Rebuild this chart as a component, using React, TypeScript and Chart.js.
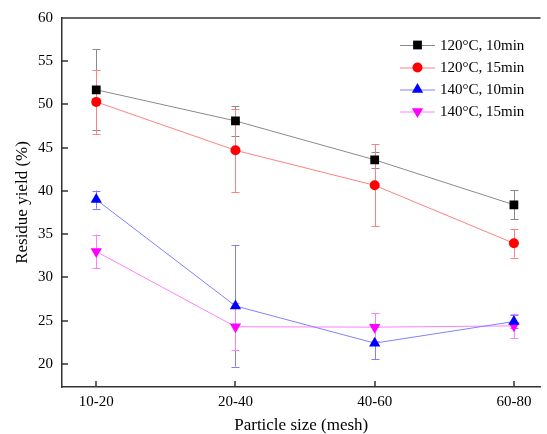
import React, { useEffect, useRef } from 'react';
import { Chart, registerables } from 'chart.js';

Chart.register(...registerables);

const categories = ['10-20', '20-40', '40-60', '60-80'];
const seriesLabels = ['120°C, 10min', '120°C, 15min', '140°C, 10min', '140°C, 15min'];
const yield120_10 = [51.7, 48.1, 43.6, 38.4];
const err120_10 = [4.7, 1.7, 0.95, 1.7];
const yield120_15 = [50.3, 44.7, 40.65, 33.95];
const err120_15 = [3.7, 4.8, 4.75, 1.65];
const yield140_10 = [39.0, 26.7, 22.4, 24.9];
const err140_10 = [1.05, 7.0, 1.85, 0.8];
const yield140_15 = [33.0, 24.3, 24.25, 24.4];
const err140_15 = [1.95, 2.7, 1.6, 1.4];
const yTicks = [20, 25, 30, 35, 40, 45, 50, 55, 60];

const seriesValues = [yield120_10, yield120_15, yield140_10, yield140_15];
const seriesErrors = [err120_10, err120_15, err140_10, err140_15];
const markerColors = ['#000000', '#ff0000', '#0000ff', '#ff00ff'];
const lineColors = ['#8a8a8a', '#ff8080', '#8080ff', '#ff80ff'];
const markerStyles = ['rect', 'circle', 'triangle', 'triangle'];
const markerRadius = [6.2, 5, 6.5, 6.5];
const markerRotation = [0, 0, 0, 180];

const FONT = '"Liberation Serif", "Times New Roman", serif';

function drawMarker(ctx: CanvasRenderingContext2D, style: string, x: number, y: number, r: number, rot: number, color: string) {
  ctx.save();
  ctx.fillStyle = color;
  ctx.strokeStyle = color;
  ctx.beginPath();
  if (style === 'rect') {
    const s = Math.SQRT1_2 * r;
    ctx.rect(x - s, y - s, 2 * s, 2 * s);
  } else if (style === 'circle') {
    ctx.arc(x, y, r, 0, Math.PI * 2);
  } else {
    let a = (rot * Math.PI) / 180;
    ctx.moveTo(x + Math.sin(a) * r, y - Math.cos(a) * r);
    a += (2 * Math.PI) / 3;
    ctx.lineTo(x + Math.sin(a) * r, y - Math.cos(a) * r);
    a += (2 * Math.PI) / 3;
    ctx.lineTo(x + Math.sin(a) * r, y - Math.cos(a) * r);
    ctx.closePath();
  }
  ctx.fill();
  ctx.restore();
}

const errorBarPlugin = {
  id: 'errorBars',
  beforeDatasetsDraw(chart: any) {
    const ctx = chart.ctx;
    const xs = chart.scales.x;
    const ys = chart.scales.y;
    ctx.save();
    ctx.lineWidth = 1;
    seriesValues.forEach((vals, si) => {
      ctx.strokeStyle = lineColors[si];
      vals.forEach((v, i) => {
        const e = seriesErrors[si][i];
        const px = Math.round(xs.getPixelForValue(i)) + 0.5;
        const top = ys.getPixelForValue(v + e);
        const bot = ys.getPixelForValue(v - e);
        ctx.beginPath();
        ctx.moveTo(px, top);
        ctx.lineTo(px, bot);
        ctx.moveTo(px - 4, Math.round(top) + 0.5);
        ctx.lineTo(px + 4, Math.round(top) + 0.5);
        ctx.moveTo(px - 4, Math.round(bot) + 0.5);
        ctx.lineTo(px + 4, Math.round(bot) + 0.5);
        ctx.stroke();
      });
    });
    ctx.restore();
  },
};

const frameTicksLegendPlugin = {
  id: 'frameTicksLegend',
  afterDraw(chart: any) {
    const ctx = chart.ctx;
    const { left, right, top, bottom } = chart.chartArea;
    const xs = chart.scales.x;
    const ys = chart.scales.y;
    ctx.save();
    ctx.strokeStyle = '#333333';
    ctx.lineWidth = 1.5;
    ctx.beginPath();
    ctx.moveTo(left, top);
    ctx.lineTo(right, top);
    yTicks.forEach((v) => {
      const py = Math.round(ys.getPixelForValue(v));
      ctx.moveTo(left, py);
      ctx.lineTo(left + 6, py);
    });
    categories.forEach((_, i) => {
      const px = Math.round(xs.getPixelForValue(i));
      ctx.moveTo(px, bottom);
      ctx.lineTo(px, bottom - 6);
    });
    ctx.stroke();

    // legend
    const lx0 = 400;
    const lx1 = 435;
    const rowY = [45, 67.5, 89.5, 111.5];
    ctx.font = `15px ${FONT}`;
    ctx.textBaseline = 'middle';
    ctx.textAlign = 'left';
    seriesLabels.forEach((lab, si) => {
      const y = rowY[si];
      ctx.strokeStyle = lineColors[si];
      ctx.lineWidth = 1;
      ctx.beginPath();
      ctx.moveTo(lx0, y + 0.5);
      ctx.lineTo(lx1, y + 0.5);
      ctx.stroke();
      drawMarker(ctx, markerStyles[si], (lx0 + lx1) / 2, y, markerRadius[si], markerRotation[si], markerColors[si]);
      ctx.fillStyle = '#000000';
      ctx.fillText(lab, 440, y + 1);
    });
    ctx.restore();
  },
};

export default function App() {
  const canvasRef = useRef<HTMLCanvasElement | null>(null);

  useEffect(() => {
    if (!canvasRef.current) return;
    const datasets = seriesValues.map((vals, si) => ({
      label: seriesLabels[si],
      data: vals.map((v, i) => ({ x: i, y: v })),
      showLine: true,
      borderColor: lineColors[si],
      borderWidth: 1,
      backgroundColor: markerColors[si],
      pointBackgroundColor: markerColors[si],
      pointBorderColor: markerColors[si],
      pointBorderWidth: 0,
      pointStyle: markerStyles[si],
      pointRadius: markerRadius[si],
      pointRotation: markerRotation[si],
      tension: 0,
    }));

    const chart = new Chart(canvasRef.current, {
      type: 'scatter',
      data: { datasets },
      plugins: [errorBarPlugin, frameTicksLegendPlugin],
      options: {
        responsive: false,
        animation: false,
        devicePixelRatio: 1,
        layout: { padding: { top: 18, left: 0, right: 0, bottom: 0 } },
        plugins: {
          legend: { display: false },
          tooltip: { enabled: false },
        },
        scales: {
          x: {
            type: 'linear',
            min: -0.246,
            max: 3.191,
            afterBuildTicks: (scale: any) => {
              scale.ticks = categories.map((_, i) => ({ value: i }));
            },
            afterFit: (scale: any) => {
              scale.height = 47;
            },
            ticks: {
              callback: (v: any) => categories[v] ?? '',
              color: '#000000',
              font: { family: FONT, size: 15 },
              padding: 6,
              maxRotation: 0,
              autoSkip: false,
            },
            grid: { display: false, drawTicks: false },
            border: { display: true, color: '#333333', width: 1.5 },
            title: {
              display: true,
              text: 'Particle size (mesh)',
              color: '#000000',
              font: { family: FONT, size: 17, lineHeight: 1 },
              padding: { top: 0, bottom: 0 },
            },
          },
          y: {
            type: 'linear',
            min: 17.33,
            max: 60,
            afterBuildTicks: (scale: any) => {
              scale.ticks = yTicks.map((v) => ({ value: v }));
            },
            afterFit: (scale: any) => {
              scale.width = 62;
            },
            ticks: {
              color: '#000000',
              font: { family: FONT, size: 15 },
              padding: 9,
            },
            grid: { display: false, drawTicks: false },
            border: { display: true, color: '#333333', width: 1.5 },
            title: {
              display: true,
              text: 'Residue yield (%)',
              color: '#000000',
              font: { family: FONT, size: 17, lineHeight: 1.2 },
              padding: { top: 12, bottom: 0 },
            },
          },
        },
      },
    } as any);

    return () => {
      chart.destroy();
    };
  }, []);

  return (
    <div style={{ position: 'fixed', left: 0, top: 0, width: 547, height: 434, background: '#ffffff' }}>
      <canvas ref={canvasRef} width={547} height={434} style={{ width: 547, height: 434, display: 'block' }} />
    </div>
  );
}
